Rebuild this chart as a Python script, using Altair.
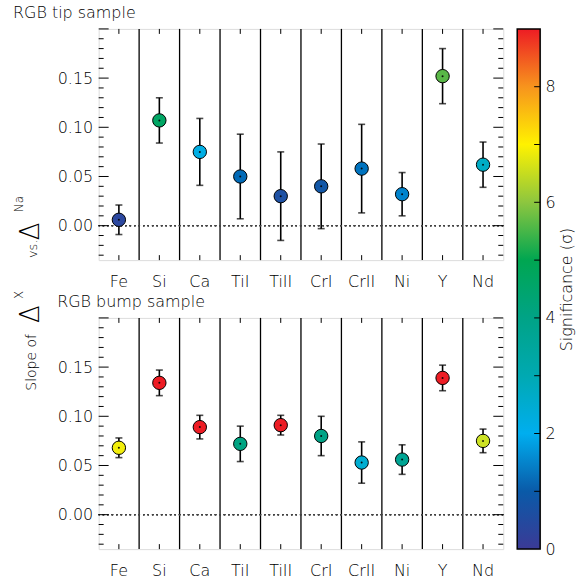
import altair as alt
import pandas as pd

FONT = "DejaVu Sans"

elements = ["Fe", "Si", "Ca", "TiI", "TiII", "CrI", "CrII", "Ni", "Y", "Nd"]

tip_slope = [0.006, 0.107, 0.075, 0.050, 0.030, 0.040, 0.058, 0.032, 0.152, 0.062]
tip_err = [0.015, 0.023, 0.034, 0.043, 0.045, 0.043, 0.045, 0.022, 0.028, 0.023]
tip_sig = [0.4, 4.7, 2.2, 1.2, 0.7, 0.9, 1.3, 1.5, 5.5, 2.7]

bump_slope = [0.068, 0.134, 0.089, 0.072, 0.091, 0.080, 0.053, 0.056, 0.139, 0.075]
bump_err = [0.010, 0.013, 0.012, 0.018, 0.010, 0.020, 0.021, 0.015, 0.013, 0.012]
bump_sig = [6.9, 9.0, 9.0, 4.1, 9.0, 4.0, 2.5, 3.7, 9.0, 6.6]

sig_stops = [0, 1, 2, 3, 4, 5, 6, 7, 8, 9]
sig_colors = ["#3b3a96", "#0a5aa8", "#00aeef", "#00a9b2", "#00a386", "#00a651",
              "#8dc63f", "#fff200", "#f7941d", "#ed1c24"]

y_labels = [0.0, 0.05, 0.10, 0.15]
y_major = [0.0, 0.05, 0.10, 0.15, 0.20]
y_minor = [-0.03, -0.02, -0.01, 0.01, 0.02, 0.03, 0.04, 0.06, 0.07, 0.08, 0.09,
           0.11, 0.12, 0.13, 0.14, 0.16, 0.17, 0.18, 0.19]
cbar_labels = [0, 2, 4, 6, 8]
cbar_ticks = [1, 2, 3, 4, 5, 6, 7, 8]

W, H = 406, 232
CB_W = 23
LW = 300  # light font weight

yscale = alt.Scale(domain=[-0.035, 0.20], nice=False, zero=False)
yaxis = alt.Axis(values=y_labels, format=".2f", ticks=False, domain=False, grid=False,
                 labelPadding=6, labelFontSize=16, labelFont=FONT, labelColor="black",
                 labelFontWeight=LW, title=None)
xscale = alt.Scale(domain=elements, paddingInner=0, paddingOuter=0)
xaxis = alt.Axis(title=None, labelAngle=0, ticks=False, domain=False, grid=False,
                 labelPadding=13, labelFontSize=16, labelFont=FONT, labelColor="black",
                 labelFontWeight=LW)

TITLE = dict(anchor="start", font=FONT, fontSize=16, fontWeight=LW, offset=7)


def xenc(band=0.5):
    return alt.X("el:N", sort=elements, scale=xscale, axis=xaxis, bandPosition=band)


def panel(slope, err, sig, title, with_ylabel=False):
    df = pd.DataFrame({
        "el": elements,
        "slope": slope,
        "lo": [s - e for s, e in zip(slope, err)],
        "hi": [s + e for s, e in zip(slope, err)],
        "sig": sig,
    })
    base = alt.Chart(df)
    seps = base.transform_filter(alt.datum.el != elements[0]).mark_rule(
        color="black", strokeWidth=1.3).encode(x=xenc(0))
    zero = base.mark_rule(color="#444", strokeDash=[1.5, 3], strokeWidth=1).encode(
        y=alt.datum(0))
    xt_bot = base.mark_rule(color="black", strokeWidth=1).encode(
        x=xenc(), y=alt.value(H), y2=alt.value(H - 5))
    xt_top = base.mark_rule(color="black", strokeWidth=1).encode(
        x=xenc(), y=alt.value(0), y2=alt.value(5))

    tmaj = alt.Chart(pd.DataFrame({"v": y_major}))
    tmin = alt.Chart(pd.DataFrame({"v": y_minor}))
    ylay = []
    for tc, ln in ((tmaj, 10), (tmin, 5)):
        ylay.append(tc.mark_rule(color="black", strokeWidth=1).encode(
            y=alt.Y("v:Q", scale=yscale, axis=yaxis), x=alt.value(0), x2=alt.value(ln)))
        ylay.append(tc.mark_rule(color="black", strokeWidth=1).encode(
            y=alt.Y("v:Q", scale=yscale, axis=yaxis), x=alt.value(W - ln), x2=alt.value(W)))

    bars = base.mark_rule(color="black", strokeWidth=1.6).encode(
        x=xenc(), y=alt.Y("lo:Q", scale=yscale, axis=yaxis), y2="hi:Q")
    cap_lo = base.mark_tick(color="black", size=7, thickness=1.6, orient="horizontal").encode(
        x=xenc(), y=alt.Y("lo:Q", scale=yscale, axis=yaxis))
    cap_hi = base.mark_tick(color="black", size=7, thickness=1.6, orient="horizontal").encode(
        x=xenc(), y=alt.Y("hi:Q", scale=yscale, axis=yaxis))
    pts = base.mark_circle(size=180, stroke="black", strokeWidth=1, opacity=1).encode(
        x=xenc(), y=alt.Y("slope:Q", scale=yscale, axis=yaxis),
        color=alt.Color("sig:Q", scale=alt.Scale(domain=sig_stops, range=sig_colors,
                                                  clamp=True), legend=None))
    dots = base.mark_circle(size=4, color="black", opacity=0.9).encode(
        x=xenc(), y=alt.Y("slope:Q", scale=yscale, axis=yaxis))

    layers = [seps, zero, xt_bot, xt_top] + ylay + [bars, cap_lo, cap_hi, pts, dots]

    if with_ylabel:
        one = alt.Chart(pd.DataFrame({"k": [0]}))
        pieces = [
            ("Slope of", 14, -63, 363),
            ("\u0394", 26, -60, 295),
            ("X", 12, -76, 271),
            ("vs.", 13, -62, 230),
            ("\u0394", 26, -60, 212),
            ("Na", 12, -76, 184),
        ]
        for txt, fs, px, py in pieces:
            layers.append(one.mark_text(text=txt, angle=270, align="left",
                                        baseline="alphabetic", font=FONT, fontSize=fs,
                                        fontWeight=LW, color="black").encode(
                x=alt.value(px), y=alt.value(py)))

    return alt.layer(*layers).properties(
        width=W, height=H,
        title=alt.TitleParams(title, color="black", **TITLE))


top = panel(tip_slope, tip_err, tip_sig, "RGB tip sample", with_ylabel=True)
bottom = panel(bump_slope, bump_err, bump_sig, "RGB bump sample")

col = alt.vconcat(top, bottom, spacing=58, bounds="flush")

# colour bar
CB_H = 522
cb_y = alt.Scale(domain=[0, 9], nice=False, zero=False)
cb_x = alt.Scale(domain=[0, 1], nice=False, zero=False)
cb_axis = alt.Axis(orient="right", values=cbar_labels, ticks=False, domain=False,
                   grid=False, labelPadding=5, labelFontSize=16, labelFont=FONT,
                   labelFontWeight=LW, labelColor="black",
                   title="Significance (\u03c3)", titleAngle=270, titleBaseline="top",
                   titleFont=FONT, titleFontSize=16, titleFontWeight=LW,
                   titleColor="black", titlePadding=3)
grad = alt.Gradient(
    gradient="linear", x1=0, x2=0, y1=1, y2=0,
    stops=[alt.GradientStop(offset=s / 9, color=c) for s, c in zip(sig_stops, sig_colors)])
cb_base = alt.Chart(pd.DataFrame({"lo": [sig_stops[0]], "hi": [sig_stops[-1]],
                                  "a": [0], "b": [1]}))
cb_rect = cb_base.mark_rect(fill=grad, stroke="black", strokeWidth=1.5).encode(
    y=alt.Y("lo:Q", scale=cb_y, axis=cb_axis), y2="hi:Q",
    x=alt.X("a:Q", scale=cb_x, axis=None), x2="b:Q")
cb_ticks = alt.Chart(pd.DataFrame({"t": cbar_ticks})).mark_rule(
    color="black", strokeWidth=1).encode(
    y=alt.Y("t:Q", scale=cb_y, axis=cb_axis),
    x=alt.value(CB_W - 6), x2=alt.value(CB_W))
cbar = alt.layer(cb_rect, cb_ticks).properties(
    width=CB_W, height=CB_H,
    title=alt.TitleParams("I", color="white", **TITLE))

chart = alt.hconcat(col, cbar, spacing=11).properties(
    padding={"left": 12, "top": 3, "right": 5, "bottom": 5}
).configure_view(stroke="black", strokeWidth=1.5).configure(
    font=FONT, background="white")

chart.save("out.html", embed_options={"renderer": "svg", "actions": False})
